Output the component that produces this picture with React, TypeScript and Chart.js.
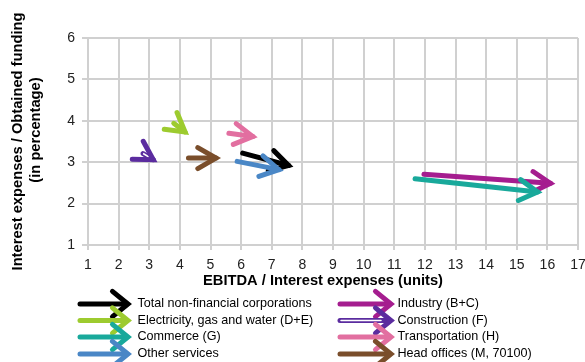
import { useEffect, useRef } from "react";
import { Chart, registerables } from "chart.js";

Chart.register(...registerables);

// Series (Excel order: later series drawn on top)
const seriesNames = [
  "Total non-financial corporations",
  "Industry (B+C)",
  "Electricity, gas and water (D+E)",
  "Construction (F)",
  "Commerce (G)",
  "Transportation (H)",
  "Other services",
  "Head offices (M, 70100)",
];
const seriesColors = [
  "#000000",
  "#a51d8f",
  "#9dcb2f",
  "#5b2c9f",
  "#19a99b",
  "#e26fa0",
  "#4a87c6",
  "#7a4e2b",
];
const startX = [6.05, 11.97, 3.8, 2.8, 11.68, 5.6, 5.87, 4.28];
const startY = [3.22, 2.71, 3.94, 3.21, 2.6, 3.7, 3.02, 3.1];
const endX = [7.55, 16.1, 4.17, 3.13, 15.68, 6.38, 7.23, 5.18];
const endY = [2.92, 2.49, 3.73, 3.06, 2.28, 3.62, 2.82, 3.1];
const hollowShaft = [false, false, false, true, false, false, false, false];

const xMin = 1;
const xMax = 17;
const yMin = 1;
const yMax = 6;
const xTitle = "EBITDA / Interest expenses (units)";
const yTitleLines = ["Interest expenses / Obtained funding", "(in percentage)"];

const FONT = "'Liberation Sans', Arial, sans-serif";
const GRID = "#d0d0d0";

function drawHead(
  ctx: CanvasRenderingContext2D,
  x0: number, y0: number, x1: number, y1: number,
  color: string, len: number, half: number, width: number
) {
  const a = Math.atan2(y1 - y0, x1 - x0);
  ctx.beginPath();
  ctx.moveTo(x1 - len * Math.cos(a - half), y1 - len * Math.sin(a - half));
  ctx.lineTo(x1, y1);
  ctx.lineTo(x1 - len * Math.cos(a + half), y1 - len * Math.sin(a + half));
  ctx.strokeStyle = color;
  ctx.lineWidth = width;
  ctx.lineJoin = "miter";
  ctx.lineCap = "round";
  ctx.stroke();
}

const arrowPlugin = {
  id: "arrowPlugin",
  afterDatasetDraw(chart: any, args: any) {
    const i = args.index;
    const pts = args.meta.data;
    if (!pts || pts.length < 2) return;
    const p0 = pts[0];
    const p1 = pts[1];
    const ctx = chart.ctx as CanvasRenderingContext2D;
    ctx.save();
    if (hollowShaft[i]) {
      ctx.beginPath();
      ctx.moveTo(p0.x, p0.y);
      ctx.lineTo(p1.x, p1.y);
      ctx.strokeStyle = "#ffffff";
      ctx.lineWidth = 1.5;
      ctx.stroke();
    }
    drawHead(ctx, p0.x, p0.y, p1.x, p1.y, seriesColors[i], 21, Math.PI / 6, 5);
    ctx.restore();
  },
  afterDraw(chart: any) {
    const ctx = chart.ctx as CanvasRenderingContext2D;
    ctx.save();
    ctx.fillStyle = "#000";
    ctx.textAlign = "center";
    ctx.textBaseline = "middle";
    ctx.font = `bold 14.7px ${FONT}`;
    // x title
    ctx.fillText(xTitle, 323, 281);
    // y title
    const yPos = [
      [18, 141.5],
      [36, 130],
    ];
    yTitleLines.forEach((line, k) => {
      ctx.save();
      ctx.translate(yPos[k][0], yPos[k][1]);
      ctx.rotate(-Math.PI / 2);
      ctx.fillText(line, 0, 0);
      ctx.restore();
    });
    // legend
    const colArrowX = [
      [80, 128],
      [340, 391],
    ];
    const colTextX = [137.5, 397.5];
    const rowY = [304, 320.5, 337, 354];
    ctx.font = `12.6px ${FONT}`;
    ctx.textAlign = "left";
    seriesNames.forEach((name, i) => {
      const col = i % 2;
      const row = Math.floor(i / 2);
      const y = rowY[row];
      const [ax0, ax1] = colArrowX[col];
      ctx.beginPath();
      ctx.moveTo(ax0, y);
      ctx.lineTo(ax1 - 2, y);
      ctx.strokeStyle = seriesColors[i];
      ctx.lineWidth = 5;
      ctx.lineCap = "round";
      ctx.stroke();
      if (hollowShaft[i]) {
        ctx.beginPath();
        ctx.moveTo(ax0 + 1, y);
        ctx.lineTo(ax1 - 10, y);
        ctx.strokeStyle = "#ffffff";
        ctx.lineWidth = 1.5;
        ctx.stroke();
      }
      drawHead(ctx, ax0, y, ax1, y, seriesColors[i], 20, (39 * Math.PI) / 180, 5);
      ctx.fillStyle = "#000";
      ctx.fillText(name, colTextX[col], y);
    });
    ctx.restore();
  },
};

export default function App() {
  const ref = useRef<HTMLCanvasElement | null>(null);
  useEffect(() => {
    if (!ref.current) return;
    Chart.defaults.font.family = FONT;
    const datasets = seriesNames.map((name, i) => ({
      label: name,
      data: [
        { x: startX[i], y: startY[i] },
        { x: endX[i], y: endY[i] },
      ],
      showLine: true,
      borderColor: seriesColors[i],
      backgroundColor: seriesColors[i],
      borderWidth: 5,
      borderCapStyle: "round" as const,
      pointRadius: 0,
      pointHoverRadius: 0,
      order: seriesNames.length - i,
    }));
    const chart = new Chart(ref.current, {
      type: "scatter",
      data: { datasets },
      options: {
        responsive: false,
        animation: false,
        events: [],
        layout: { autoPadding: false, padding: { top: 38, right: 7, left: 0, bottom: 0 } },
        plugins: { legend: { display: false }, tooltip: { enabled: false } },
        scales: {
          x: {
            type: "linear",
            min: xMin,
            max: xMax,
            afterFit: (s: any) => {
              s.height = 117;
              s.paddingRight = 0;
              s.paddingLeft = 0;
            },
            ticks: { stepSize: 1, color: "#222", font: { size: 14 }, padding: 7, maxRotation: 0, autoSkip: false },
            grid: { color: GRID, lineWidth: 2, tickLength: 5 },
            border: { color: GRID, width: 2 },
          },
          y: {
            type: "linear",
            min: yMin,
            max: yMax,
            afterFit: (s: any) => {
              s.width = 88;
            },
            ticks: { stepSize: 1, color: "#222", font: { size: 14 }, padding: 7 },
            grid: { color: GRID, lineWidth: 2, tickLength: 6 },
            border: { color: GRID, width: 2 },
          },
        },
      },
      plugins: [arrowPlugin],
    });
    return () => chart.destroy();
  }, []);
  return (
    <div style={{ position: "fixed", left: 0, top: 0, width: 585, height: 362, background: "#fff" }}>
      <canvas ref={ref} width={585} height={362} />
    </div>
  );
}
